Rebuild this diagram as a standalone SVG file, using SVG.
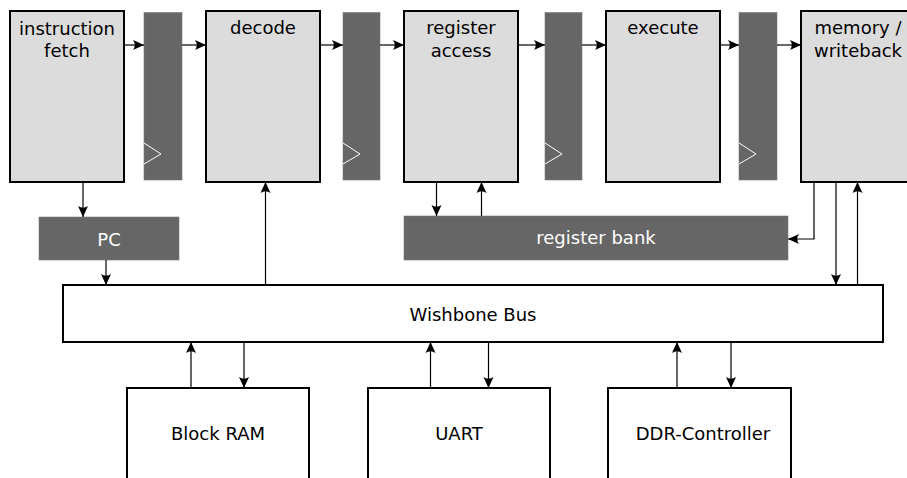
<svg xmlns="http://www.w3.org/2000/svg" width="907" height="478" viewBox="0 0 907 478">
  <defs>
    <marker id="arrow" viewBox="-12 -6 13 12" refX="0" refY="0" markerWidth="13" markerHeight="12" markerUnits="userSpaceOnUse" orient="auto">
      <path d="M0,0 L-11,-5 Q-7.5,0 -11,5 Z" fill="#000"/>
    </marker>
  </defs>
  <style>
    .stage { fill: #dcdcdc; stroke: #000; stroke-width: 2; }
    .latch { fill: #666666; stroke: #7a7a7a; stroke-width: 0.6; }
    .clk { fill: none; stroke: #fff; stroke-width: 1; }
    .dark { fill: #666666; stroke: #7a7a7a; stroke-width: 0.6; }
    .plain { fill: #fff; stroke: #000; stroke-width: 2; }
    .lbl { font-family: "DejaVu Sans", sans-serif; font-size: 18px; text-anchor: middle; fill: #000; }
    .lblw { font-family: "DejaVu Sans", sans-serif; font-size: 18px; text-anchor: middle; fill: #fff; }
    .wire { fill: none; stroke: #000; stroke-width: 1.2; }
    .arr { marker-end: url(#arrow); }
  </style>

  <!-- pipeline stages -->
  <g id="fetch">
    <rect class="stage" x="10" y="11" width="114" height="171"/>
    <text class="lbl" x="67" y="34.5">instruction</text>
    <text class="lbl" x="67" y="56.5">fetch</text>
  </g>
  <g id="decode">
    <rect class="stage" x="206" y="11" width="114" height="171"/>
    <text class="lbl" x="263" y="34">decode</text>
  </g>
  <g id="regaccess">
    <rect class="stage" x="404" y="11" width="114" height="171"/>
    <text class="lbl" x="461" y="34">register</text>
    <text class="lbl" x="461" y="56.5">access</text>
  </g>
  <g id="execute">
    <rect class="stage" x="606" y="11" width="114" height="171"/>
    <text class="lbl" x="663" y="34">execute</text>
  </g>
  <g id="memwb">
    <rect class="stage" x="801" y="11" width="114" height="171"/>
    <text class="lbl" x="858" y="34">memory /</text>
    <text class="lbl" x="858" y="56.5">writeback</text>
  </g>

  <!-- pipeline registers with clock inputs -->
  <g id="latch1">
    <rect class="latch" x="144" y="12.5" width="38" height="167.5"/>
    <polyline class="clk" points="144,143 161,154 144,164"/>
  </g>
  <g id="latch2">
    <rect class="latch" x="343" y="12.5" width="37" height="167.5"/>
    <polyline class="clk" points="343,143 360,154 343,164"/>
  </g>
  <g id="latch3">
    <rect class="latch" x="545" y="12.5" width="37" height="167.5"/>
    <polyline class="clk" points="545,143 562,154 545,164"/>
  </g>
  <g id="latch4">
    <rect class="latch" x="739" y="12.5" width="38" height="167.5"/>
    <polyline class="clk" points="739,143 756,154 739,164"/>
  </g>

  <g id="pc">
    <rect class="dark" x="39" y="217" width="140" height="43"/>
    <text class="lblw" x="109" y="245.5">PC</text>
  </g>
  <g id="regbank">
    <rect class="dark" x="404" y="216" width="384" height="44"/>
    <text class="lblw" x="596" y="244">register bank</text>
  </g>

  <g id="bus">
    <rect class="plain" x="63" y="285" width="820" height="57"/>
    <text class="lbl" x="473" y="321">Wishbone Bus</text>
  </g>

  <g id="blockram">
    <rect class="plain" x="127" y="388" width="182" height="100"/>
    <text class="lbl" x="218" y="440">Block RAM</text>
  </g>
  <g id="uart">
    <rect class="plain" x="368" y="388" width="182" height="100"/>
    <text class="lbl" x="459" y="440">UART</text>
  </g>
  <g id="ddr">
    <rect class="plain" x="608" y="388" width="183" height="100"/>
    <text class="lbl" x="703" y="440">DDR-Controller</text>
  </g>

  <!-- connectors -->
  <g id="connectors">
    <line class="wire arr" x1="124" y1="45" x2="144" y2="45"/>
    <line class="wire arr" x1="182" y1="45" x2="206" y2="45"/>
    <line class="wire arr" x1="320" y1="45" x2="343" y2="45"/>
    <line class="wire arr" x1="380" y1="45" x2="404" y2="45"/>
    <line class="wire arr" x1="518" y1="45" x2="545" y2="45"/>
    <line class="wire arr" x1="582" y1="45" x2="606" y2="45"/>
    <line class="wire arr" x1="720" y1="45" x2="739" y2="45"/>
    <line class="wire arr" x1="777" y1="45" x2="801" y2="45"/>

    <line class="wire arr" x1="83" y1="182" x2="83" y2="217"/>
    <line class="wire arr" x1="106" y1="260" x2="106" y2="285"/>
    <line class="wire arr" x1="265.5" y1="285" x2="265.5" y2="182"/>

    <line class="wire arr" x1="436.5" y1="182" x2="436.5" y2="216"/>
    <line class="wire arr" x1="481.5" y1="216" x2="481.5" y2="182"/>

    <polyline class="wire arr" points="814,182 814,239 788,239"/>
    <line class="wire arr" x1="836" y1="182" x2="836" y2="285"/>
    <line class="wire arr" x1="857.5" y1="285" x2="857.5" y2="182"/>

    <line class="wire arr" x1="191" y1="388" x2="191" y2="342"/>
    <line class="wire arr" x1="244" y1="342" x2="244" y2="388"/>
    <line class="wire arr" x1="430.5" y1="388" x2="430.5" y2="342"/>
    <line class="wire arr" x1="488.5" y1="342" x2="488.5" y2="388"/>
    <line class="wire arr" x1="677" y1="388" x2="677" y2="342"/>
    <line class="wire arr" x1="731" y1="342" x2="731" y2="388"/>
  </g>
</svg>
